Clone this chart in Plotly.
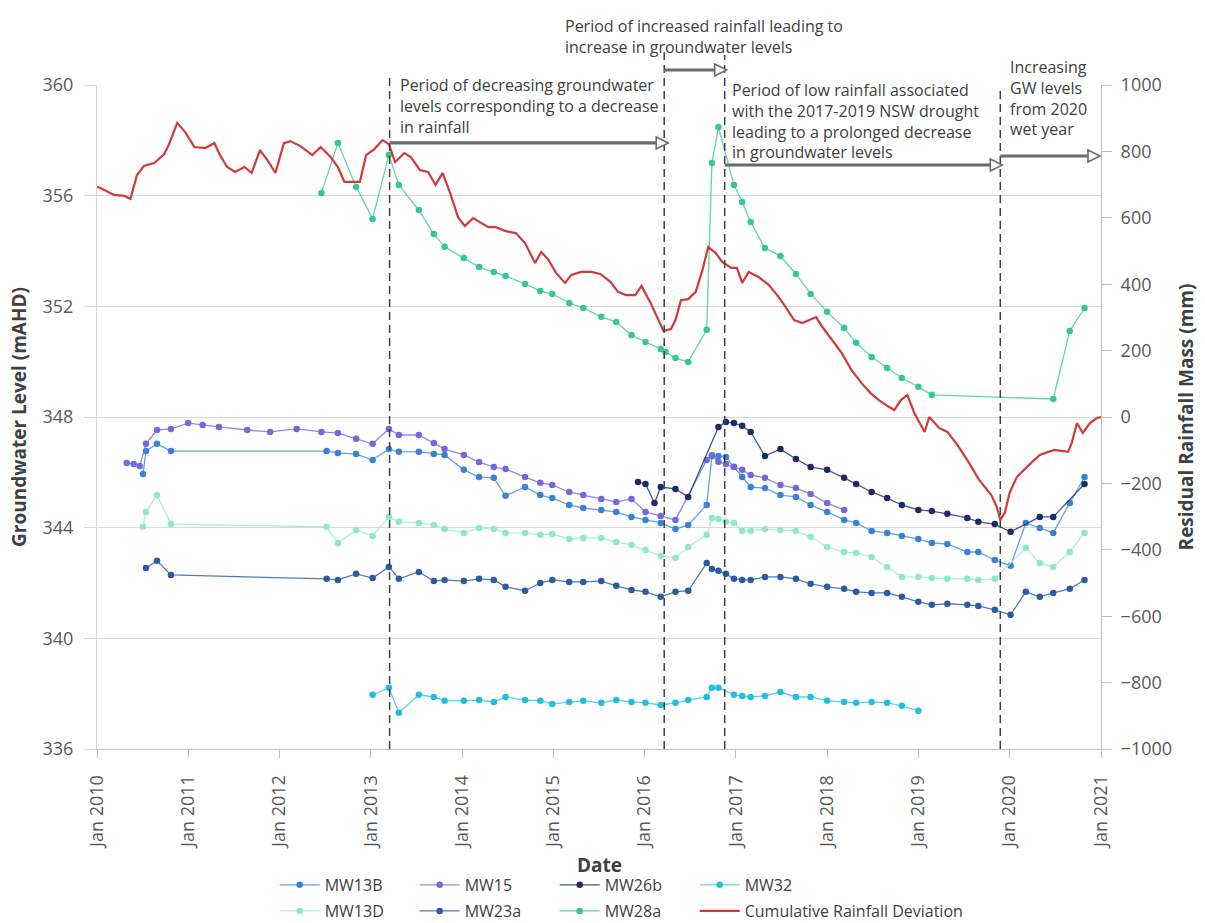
import pandas as pd
import plotly.graph_objects as go

N = None

# Groundwater monitoring rounds (None = bore not gauged in that round)
round_dates = [
    "2010-04-30", "2010-05-28", "2010-06-21", "2010-07-04", "2010-07-16",
    "2010-08-29", "2010-10-24", "2011-01-01", "2011-02-28", "2011-05-04",
    "2011-08-25", "2011-11-25", "2012-03-10", "2012-06-17", "2012-07-08",
    "2012-08-22", "2012-11-03", "2013-01-08", "2013-03-14", "2013-04-23",
    "2013-07-12", "2013-09-10", "2013-10-23", "2014-01-08", "2014-03-10",
    "2014-05-08", "2014-06-24", "2014-09-10", "2014-11-10", "2014-12-28",
    "2015-03-06", "2015-05-01", "2015-07-12", "2015-09-10", "2015-11-10",
    "2015-12-06", "2016-01-05", "2016-02-10", "2016-03-06", "2016-03-25",
    "2016-05-04", "2016-06-24", "2016-09-06", "2016-09-27", "2016-10-23",
    "2016-11-22", "2016-12-24", "2017-01-26", "2017-03-01", "2017-04-27",
    "2017-06-28", "2017-08-29", "2017-10-27", "2018-01-01", "2018-03-10",
    "2018-04-27", "2018-06-28", "2018-08-29", "2018-10-27", "2019-01-01",
    "2019-02-24", "2019-04-27", "2019-07-16", "2019-08-29", "2019-11-03",
    "2020-01-05", "2020-03-06", "2020-05-01", "2020-06-24", "2020-08-29",
    "2020-10-27",
]

# Groundwater levels (mAHD), one value per monitoring round
mw13b = [
    N, N, N, 345.94, 346.77, 347.03, 346.77, N, N, N,
    N, N, N, N, 346.77, 346.70, 346.66, 346.45, 346.84, 346.74,
    346.74, 346.66, 346.63, 346.09, 345.83, 345.80, 345.15, 345.47, 345.18, 345.07,
    344.82, 344.71, 344.64, 344.57, 344.39, N, 344.28, N, 344.17, N,
    343.95, 344.10, 344.82, 346.59, 346.59, 346.55, 346.20, 345.83, 345.47, 345.43,
    345.18, 345.11, 344.82, 344.57, 344.28, 344.17, 343.88, 343.81, 343.70, 343.59,
    343.45, 343.41, 343.12, 343.12, 342.83, 342.62, 344.17, 343.99, 343.81, 344.89,
    345.83,
]
mw15 = [
    346.34, 346.30, 346.23, N, 347.03, 347.53, 347.57, 347.78, 347.71, 347.64,
    347.53, 347.46, 347.57, 347.46, N, 347.42, 347.21, 347.03, 347.57, 347.35,
    347.35, 347.06, 346.84, 346.63, 346.37, 346.19, 346.12, 345.83, 345.62, 345.54,
    345.29, 345.18, 345.04, 344.93, 345.04, N, 344.57, N, 344.42, N,
    344.28, N, 346.45, 346.62, 346.38, 346.30, 346.19, 346.09, 345.90, 345.80,
    345.54, 345.43, 345.22, 344.89, 344.64, N, N, N, N, N,
    N, N, N, N, N, N, N, N, N, N,
    N,
]
mw26b = [
    N, N, N, N, N, N, N, N, N, N,
    N, N, N, N, N, N, N, N, N, N,
    N, N, N, N, N, N, N, N, N, N,
    N, N, N, N, N, 345.65, 345.58, 344.89, 345.47, N,
    345.40, 345.11, N, N, 347.64, 347.82, 347.78, 347.68, 347.46, 346.59,
    346.84, 346.48, 346.19, 346.09, 345.80, 345.58, 345.29, 345.07, 344.82, 344.64,
    344.60, 344.50, 344.35, 344.21, 344.13, 343.85, N, 344.39, 344.39, N,
    345.58,
]
mw32 = [
    N, N, N, N, N, N, N, N, N, N,
    N, N, N, N, N, N, N, 337.96, 338.21, 337.31,
    337.96, 337.88, 337.74, 337.74, 337.77, 337.70, 337.88, 337.77, 337.74, 337.63,
    337.70, 337.74, 337.67, 337.77, 337.70, N, 337.67, N, 337.59, N,
    337.67, 337.77, 337.88, 338.21, 338.21, N, 337.96, 337.92, 337.88, 337.92,
    338.06, 337.88, 337.88, 337.74, 337.70, 337.67, 337.70, 337.67, 337.56, 337.38,
    N, N, N, N, N, N, N, N, N, N,
    N,
]
mw13d = [
    N, N, N, 344.03, 344.57, 345.18, 344.13, N, N, N,
    N, N, N, N, 344.03, 343.45, 343.92, 343.70, 344.39, 344.21,
    344.17, 344.10, 343.95, 343.81, 343.99, 343.95, 343.81, 343.81, 343.74, 343.77,
    343.59, 343.63, 343.63, 343.48, 343.38, N, 343.19, N, 342.98, N,
    342.91, 343.30, 343.74, 344.35, 344.31, 344.21, 344.17, 343.88, 343.88, 343.95,
    343.92, 343.88, 343.67, 343.30, 343.12, 343.09, 342.94, 342.58, 342.22, 342.22,
    342.18, 342.15, 342.15, 342.11, 342.15, N, 343.27, 342.72, 342.58, 343.12,
    343.81,
]
mw23a = [
    N, N, N, N, 342.54, 342.80, 342.29, N, N, N,
    N, N, N, N, 342.15, 342.11, 342.33, 342.18, 342.58, 342.15,
    342.40, 342.07, 342.11, 342.07, 342.15, 342.11, 341.86, 341.72, 342.00, 342.11,
    342.04, 342.04, 342.07, 341.90, 341.75, N, 341.68, N, 341.50, N,
    341.68, 341.72, 342.72, 342.51, 342.44, 342.33, 342.15, 342.11, 342.11, 342.22,
    342.22, 342.15, 341.97, 341.86, 341.79, 341.68, 341.64, 341.64, 341.50, 341.32,
    341.21, 341.25, 341.21, 341.17, 341.03, 340.85, 341.68, 341.50, 341.64, 341.79,
    342.11,
]
mw28a = [
    N, N, N, N, N, N, N, N, N, N,
    N, N, N, 356.10, N, 357.90, 356.31, 355.16, 357.47, 356.39,
    355.48, 354.61, 354.15, 353.75, 353.42, 353.24, 353.10, 352.81, 352.55, 352.45,
    352.12, 351.94, 351.62, 351.43, 350.96, N, 350.71, N, 350.46, 350.35,
    350.13, 349.99, 351.15, 357.18, 358.48, N, 356.39, 355.77, 355.05, 354.11,
    353.82, 353.17, 352.45, 351.80, 351.22, 350.68, 350.17, 349.77, 349.41, 349.09,
    348.80, N, N, N, N, N, N, N, 348.65, 351.11,
    351.94,
]

# Cumulative rainfall deviation (residual rainfall mass, mm)
rain_dates = [
    "2010-01-01", "2010-01-15", "2010-03-10", "2010-04-20", "2010-05-15",
    "2010-06-10", "2010-07-08", "2010-08-18", "2010-09-27", "2010-10-15",
    "2010-11-18", "2010-12-20", "2011-01-26", "2011-03-10", "2011-04-16",
    "2011-05-08", "2011-06-06", "2011-07-08", "2011-08-14", "2011-09-12",
    "2011-10-15", "2011-11-14", "2011-12-16", "2012-01-19", "2012-02-14",
    "2012-03-25", "2012-05-12", "2012-06-14", "2012-07-24", "2012-08-22",
    "2012-09-17", "2012-10-12", "2012-11-18", "2012-12-13", "2013-01-15",
    "2013-02-17", "2013-03-14", "2013-04-08", "2013-05-15", "2013-06-10",
    "2013-07-16", "2013-08-18", "2013-09-17", "2013-10-15", "2013-11-14",
    "2013-12-16", "2014-01-12", "2014-02-14", "2014-03-18", "2014-04-16",
    "2014-05-15", "2014-06-24", "2014-08-04", "2014-09-10", "2014-10-20",
    "2014-11-14", "2014-12-13", "2015-01-12", "2015-02-17", "2015-03-14",
    "2015-04-23", "2015-06-03", "2015-07-08", "2015-08-18", "2015-09-17",
    "2015-10-20", "2015-11-25", "2015-12-20", "2016-01-26", "2016-02-24",
    "2016-03-17", "2016-04-16", "2016-05-04", "2016-05-26", "2016-06-24",
    "2016-07-24", "2016-08-18", "2016-09-12", "2016-10-12", "2016-11-07",
    "2016-12-13", "2017-01-05", "2017-01-26", "2017-02-21", "2017-04-01",
    "2017-05-12", "2017-06-21", "2017-07-19", "2017-08-22", "2017-09-24",
    "2017-10-20", "2017-11-18", "2017-12-13", "2018-01-19", "2018-02-28",
    "2018-04-08", "2018-05-19", "2018-06-24", "2018-07-27", "2018-09-06",
    "2018-09-27", "2018-10-23", "2018-11-18", "2018-12-16", "2019-01-26",
    "2019-02-14", "2019-03-25", "2019-04-27", "2019-06-06", "2019-07-16",
    "2019-09-02", "2019-10-20", "2019-11-11", "2019-11-25", "2019-12-13",
    "2020-01-01", "2020-01-30", "2020-03-10", "2020-05-01", "2020-06-28",
    "2020-08-22", "2020-09-06", "2020-09-27", "2020-10-20", "2020-11-18",
    "2020-12-16", "2021-01-01",
]
rain_dev = [
    693, 690, 669, 666, 657,
    729, 756, 765, 792, 819,
    886, 858, 813, 810, 825,
    789, 753, 738, 753, 735,
    804, 774, 735, 825, 831,
    816, 789, 813, 783, 753,
    708, 708, 708, 789, 807,
    834, 822, 768, 795, 783,
    744, 738, 699, 735, 675,
    602, 575, 599, 584, 572,
    572, 560, 554, 524, 464,
    497, 473, 434, 404, 428,
    437, 437, 431, 407, 377,
    367, 367, 395, 343, 292,
    259, 265, 292, 352, 355,
    377, 437, 512, 494, 467,
    449, 449, 404, 437, 422,
    398, 361, 331, 292, 283,
    292, 301, 271, 232, 193,
    142, 102, 72, 51, 30,
    21, 51, 66, 12, -45,
    0, -33, -45, -84, -130,
    -190, -235, -271, -310, -289,
    -229, -181, -151, -114, -99,
    -105, -78, -18, -48, -18,
    -3, 0,
]

# Start dates of the rainfall / groundwater periods
period_starts = ["2013-03-17", "2016-03-20", "2016-11-17", "2019-11-25"]
x_start, x_end = "2010-01-01", "2021-01-01"

# (name, levels, marker colour, line colour, legend row)
bores = [
    ("MW13B", mw13b, "#3a82d4", "rgba(74,144,217,0.85)", "legend"),
    ("MW15", mw15, "#7468dc", "rgba(128,116,226,0.85)", "legend"),
    ("MW26b", mw26b, "#1c2b66", "rgba(40,56,120,0.85)", "legend"),
    ("MW32", mw32, "#20bfe2", "rgba(60,200,232,0.85)", "legend"),
    ("MW13D", mw13d, "#8fe8c8", "rgba(160,238,210,0.9)", "legend2"),
    ("MW23a", mw23a, "#2a5ba6", "rgba(50,100,170,0.85)", "legend2"),
    ("MW28a", mw28a, "#36c69a", "rgba(70,205,165,0.85)", "legend2"),
]

FONT = "Open Sans"
GREY_TXT = "#595959"
DARK_TXT = "#404040"

fig = go.Figure()

for name, levels, mcol, lcol, leg in bores:
    pts = [(d, v) for d, v in zip(round_dates, levels) if v is not None]
    fig.add_trace(go.Scatter(
        x=[p[0] for p in pts], y=[p[1] for p in pts], name=name,
        mode="lines+markers", legend=leg,
        line=dict(color=lcol, width=1.3),
        marker=dict(color=mcol, size=6.5),
    ))

fig.add_trace(go.Scatter(
    x=rain_dates, y=rain_dev, name="Cumulative Rainfall Deviation",
    mode="lines", yaxis="y2", legend="legend3",
    line=dict(color="#d23a3a", width=2.2),
))

# ---- period markers: dashed separators, arrows and notes -------------------
t0, t1 = pd.Timestamp(x_start), pd.Timestamp(x_end)
PLOT_W, PLOT_H = 1004, 664


def xfrac(d):
    return (pd.Timestamp(d) - t0) / (t1 - t0)


shapes = []
sep_tops = [1.015, 1.056, 1.045, 0.996]
for d, top in zip(period_starts, sep_tops):
    xf = xfrac(d)
    shapes.append(dict(type="line", xref="paper", yref="paper",
                       x0=xf, x1=xf, y0=0, y1=top,
                       line=dict(color="#3f3f3f", width=1.5, dash="8px,5px")))


def arrow(d0, d1, y, tip_shift=0):
    xs = xfrac(d0)
    xt = xfrac(d1) + tip_shift / PLOT_W
    head_len, half = 12 / PLOT_W, 6 / PLOT_H
    xb = xt - head_len
    shapes.append(dict(type="line", xref="paper", yref="paper",
                       x0=xs, x1=xb, y0=y, y1=y,
                       line=dict(color="#6a6a6a", width=3.2)))
    shapes.append(dict(type="path", xref="paper", yref="paper",
                       path=f"M {xb},{y + half} L {xt},{y} L {xb},{y - half} Z",
                       fillcolor="white", line=dict(color="#6a6a6a", width=1.6)))


arrow(period_starts[0], period_starts[1], 0.9127, tip_shift=4)
arrow(period_starts[1], period_starts[2], 1.0226, tip_shift=2)
arrow(period_starts[2], period_starts[3], 0.8795, tip_shift=2)
arrow(period_starts[3], x_end, 0.8931, tip_shift=-1)

notes = [
    (period_starts[0], 1.020, "Period of decreasing groundwater<br>levels corresponding to a decrease<br>in rainfall", 8),
    (period_starts[1], 1.108, "Period of increased rainfall leading to<br>increase in groundwater levels", -101),
    (period_starts[2], 1.012, "Period of low rainfall associated<br>with the 2017-2019 NSW drought<br>leading to a prolonged decrease<br>in groundwater levels", 5),
    (period_starts[3], 1.047, "Increasing<br>GW levels<br>from 2020<br>wet year", 8),
]
annotations = []
for d, y, txt, dx in notes:
    annotations.append(dict(
        x=xfrac(d) + dx / PLOT_W, y=y, xref="paper", yref="paper",
        xanchor="left", yanchor="top", align="left", showarrow=False,
        text=txt, font=dict(family=FONT, size=16, color=DARK_TXT),
    ))

# x-axis title, set below the rotated date labels
annotations.append(dict(
    x=0.5, y=-0.175, xref="paper", yref="paper",
    xanchor="center", yanchor="middle", showarrow=False,
    text="<b>Date</b>", font=dict(family=FONT, size=19, color=DARK_TXT),
))

# Legend laid out as a 4-column grid over two rows (positioned on the page)
COL_W = 140 / PLOT_W
LEG_X = 0.177
ROW1_Y, ROW2_Y = 0.0412, 0.0130
legend_common = dict(
    orientation="h", xanchor="left", yanchor="middle", yref="container",
    font=dict(family=FONT, size=16, color=DARK_TXT),
    bgcolor="rgba(0,0,0,0)", itemwidth=40, traceorder="normal",
)

fig.update_layout(
    width=1205, height=923,
    margin=dict(l=97, r=104, t=85, b=174),
    paper_bgcolor="white", plot_bgcolor="white",
    font=dict(family=FONT, color=GREY_TXT),
    shapes=shapes, annotations=annotations,
    legend=dict(x=LEG_X, y=ROW1_Y, entrywidth=85, entrywidthmode="pixels",
                **legend_common),
    legend2=dict(x=LEG_X, y=ROW2_Y, entrywidth=85, entrywidthmode="pixels",
                 **legend_common),
    legend3=dict(x=LEG_X + 3 * COL_W, y=ROW2_Y, **legend_common),
    xaxis=dict(
        type="date", range=[x_start, x_end], automargin=False,
        tick0=x_start, dtick="M12", tickformat="%b %Y", tickangle=-90,
        showgrid=False, showline=True, linecolor="#bfbfbf", linewidth=1,
        ticks="outside", ticklen=8, tickcolor="#bfbfbf",
        tickfont=dict(family=FONT, size=18, color=GREY_TXT),
        ticklabelstandoff=10,
    ),
    yaxis=dict(
        range=[336, 360], tick0=336, dtick=4, automargin=False,
        showgrid=True, gridcolor="#d9d9d9", gridwidth=1, zeroline=False,
        showline=True, linecolor="#d9d9d9",
        ticks="outside", ticklen=12, tickcolor="#d9d9d9",
        tickfont=dict(family=FONT, size=18, color=GREY_TXT),
        ticklabelstandoff=7,
        title=dict(text="<b>Groundwater Level (mAHD)</b>", standoff=10,
                   font=dict(family=FONT, size=19, color=DARK_TXT)),
    ),
    yaxis2=dict(
        range=[-1000, 1000], tick0=-1000, dtick=200, automargin=False,
        overlaying="y", side="right", showgrid=False, zeroline=False,
        showline=True, linecolor="#bfbfbf",
        ticks="outside", ticklen=10, tickcolor="#bfbfbf",
        tickfont=dict(family=FONT, size=18, color=GREY_TXT),
        ticklabelstandoff=5,
        title=dict(text="<b>Residual Rainfall Mass (mm)</b>", standoff=8,
                   font=dict(family=FONT, size=19, color=DARK_TXT)),
    ),
)

fig.write_html("out.html")
